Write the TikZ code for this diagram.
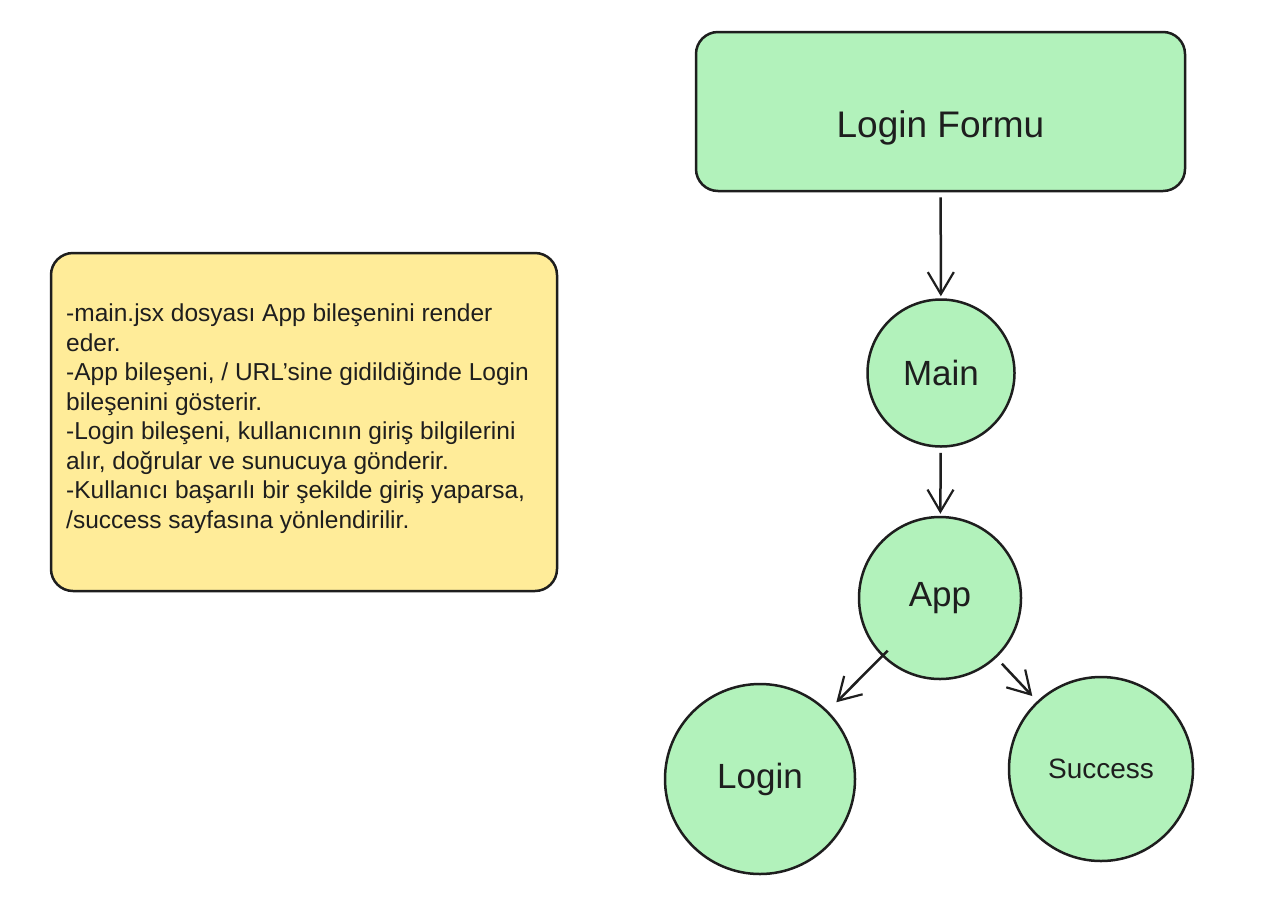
\documentclass[tikz,border=0pt]{standalone}
\usepackage{fontspec}
\setmainfont{Liberation Sans}
\usetikzlibrary{arrows.meta, positioning}
\definecolor{skInk}{HTML}{1E1E1E}
\definecolor{skGreen}{HTML}{B2F2BB}
\definecolor{skYellow}{HTML}{FFEC99}

\begin{document}
\begin{tikzpicture}[
    x=1pt, y=-1pt,
    formbox/.style={draw=skInk, line width=2.5pt, rounded corners=22pt, fill=skGreen,
                    minimum width=489pt, minimum height=159pt, inner sep=0pt,
                    font=\fontsize{37}{44}\selectfont, text=skInk},
    notebox/.style={draw=skInk, line width=2.5pt, rounded corners=22pt, fill=skYellow,
                    minimum width=506pt, minimum height=338pt, inner sep=0pt},
    notetext/.style={anchor=north west, align=left, inner sep=0pt,
                     font=\fontsize{24.5}{29.5}\selectfont, text=skInk},
    comp/.style={circle, draw=skInk, line width=2.5pt, fill=skGreen, inner sep=0pt,
                 font=\fontsize{35}{40}\selectfont, text=skInk},
    fw/.style={-{Straight Barb[length=22pt, width=26pt, line width=2.2pt]},
               line width=2.5pt, draw=skInk, shorten <=5pt, shorten >=2pt},
  ]
  \useasboundingbox (0,0) rectangle (1268,919);
  \fill[white] (0,0) rectangle (1268,919);

  % left: explanation note
  \node[notebox] (note) at (304,422) {};
  \node[notetext] (notetxt) at (66,304) {-main.jsx dosyası App bileşenini render\\
    eder.\\
    -App bileşeni, / URL'sine gidildiğinde Login\\
    bileşenini gösterir.\\
    -Login bileşeni, kullanıcının giriş bilgilerini\\
    alır, doğrular ve sunucuya gönderir.\\
    -Kullanıcı başarılı bir şekilde giriş yaparsa,\\
    /success sayfasına yönlendirilir.};

  % right: component tree
  \node[formbox] (form) at (940.5,111.5) {\raisebox{-26pt}[0pt][0pt]{Login Formu}};
  \node[comp, minimum size=147pt] (main) at (941,373) {Main};
  \node[comp, minimum size=162pt] (app) at (940,598) {App};
  \node[comp, minimum size=190pt] (login) at (760,779) {Login};
  \node[comp, minimum size=184pt, font=\fontsize{28}{32}\selectfont] (success) at (1101,769) {Success};

  \draw[fw] (form) -- (main);
  \draw[fw] (main) -- (app);
  \draw[fw, shorten <=-8pt, shorten >=12pt] (app) -- (login);
  \draw[fw, shorten <=8pt, shorten >=7pt] (app) -- (success);
\end{tikzpicture}
\end{document}
